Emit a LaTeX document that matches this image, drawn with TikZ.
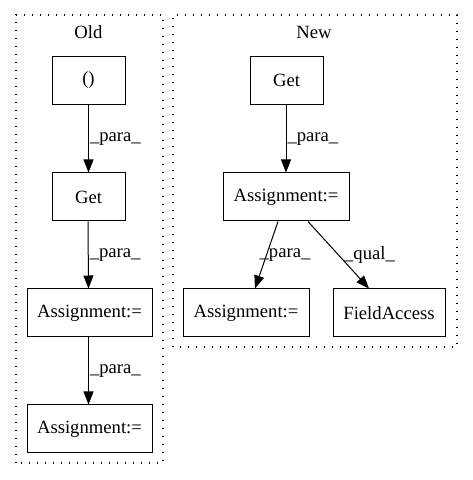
\documentclass[tikz,border=0pt]{standalone}
\usepackage{fontspec}
\setmainfont{Liberation Serif}
\usetikzlibrary{arrows.meta}
\begin{document}
\begin{tikzpicture}[x=1pt,y=1pt,
  every node/.style={font=\fontsize{18.67}{22}\selectfont},
  box/.style={draw,line width=1pt,minimum height=48pt,inner sep=0pt},
  cluster/.style={draw,line width=1.2pt,dash pattern=on 1.4pt off 6.6pt},
  edge/.style={line width=1pt,-{Triangle[length=13pt,width=10pt]}},
  elabel/.style={inner sep=0pt}]
\useasboundingbox (0,0) rectangle (472,480);
% clusters
\draw[cluster] (16,17) rectangle (163,465);
\draw[cluster] (173,133) rectangle (457,465);
\node (oldlbl) at (88.5,448) {Old};
\node (newlbl) at (314,448) {New};
% old nodes
\node[box,minimum width=73pt] (o0) at (88.5,399.5) {()};
\node[box,minimum width=73pt] (oget) at (88.5,283) {Get};
\node[box,minimum width=125pt] (oa1) at (89.5,167) {Assignment:=};
\node[box,minimum width=125pt] (oa2) at (89.5,51) {Assignment:=};
% new nodes
\node[box,minimum width=73pt] (nget) at (286.5,399.5) {Get};
\node[box,minimum width=126pt] (na) at (286,283) {Assignment:=};
\node[box,minimum width=126pt] (na1) at (246,167) {Assignment:=};
\node[box,minimum width=112pt] (nfa) at (389,167) {FieldAccess};
% edges
\draw[edge] (o0.south) -- node[elabel,anchor=west,xshift=1pt] (l1) {\_para\_} (oget.north);
\draw[edge] ([xshift=-0.5pt]oget.south) -- node[elabel,anchor=west,xshift=1pt] (l2) {\_para\_} ([xshift=-1pt]oa1.north);
\draw[edge] ([xshift=-1pt]oa1.south) -- node[elabel,anchor=west,xshift=1pt] (l3) {\_para\_} ([xshift=-1pt]oa2.north);
\draw[edge] ([xshift=-0.5pt]nget.south) -- node[elabel,anchor=west,xshift=1pt] (l4) {\_para\_} (na.north);
\draw[edge] ([xshift=-8pt]na.south) -- node[elabel,xshift=18.5pt] (l5) {\_para\_} ([xshift=9pt]na1.north);
\draw[edge] ([xshift=22pt]na.south) -- node[elabel,xshift=31pt] (l6) {\_qual\_} ([xshift=-20pt]nfa.north);
\end{tikzpicture}
\end{document}
